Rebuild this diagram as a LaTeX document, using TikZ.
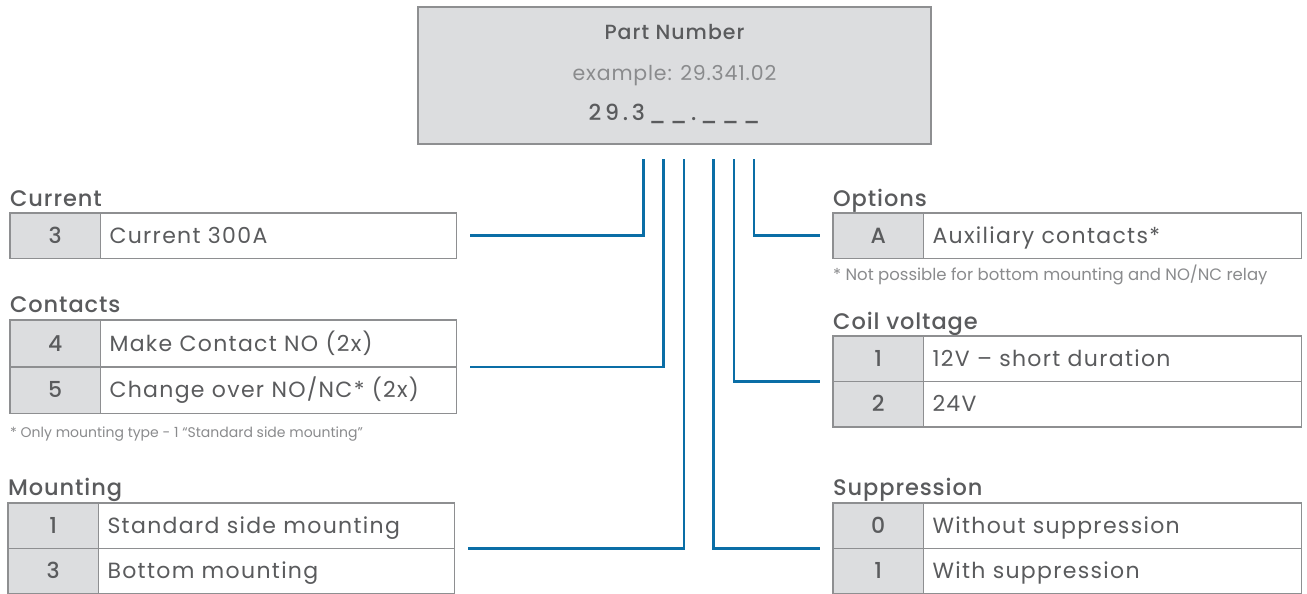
\documentclass[tikz,border=0pt]{standalone}
\usepackage{fontspec}
\setmainfont{Poppins}
\newfontfamily\medfont{Poppins Medium}
\usetikzlibrary{positioning}

\definecolor{txtgrey}{HTML}{5A5B5D}
\definecolor{notegrey}{HTML}{8A8B8D}
\definecolor{cellfill}{HTML}{DCDDDF}
\definecolor{cellline}{HTML}{8E8F91}
\definecolor{wireblue}{HTML}{0A6EA6}

\tikzset{
    cell/.style={draw=cellline, line width=1.3pt, outer sep=0pt, minimum height=45.5pt,
        text height=15pt, text depth=0pt, text=txtgrey,
        font=\fontsize{22}{26}\selectfont\addfontfeature{LetterSpace=6}},
    keycell/.style={cell, fill=cellfill, minimum width=90.5pt, font=\medfont\fontsize{22}{26}\selectfont},
    valcell/.style={cell, inner xsep=9pt, align=left, text width=#1},
    title/.style={anchor=base west, inner sep=0pt, text=txtgrey,
        font=\medfont\fontsize{22.5}{26}\selectfont\addfontfeature{LetterSpace=4}},
    note/.style={anchor=base west, inner sep=0pt, text=notegrey, font=\fontsize{#1}{18}\selectfont},
    wire/.style={draw=wireblue, line width=2.6pt, shorten >=13pt}
}

\begin{document}
\begin{tikzpicture}[x=1pt, y=-1pt]
        \path[use as bounding box, fill=white] (0,0) rectangle (1307,594);

        % Part number box
        \node[draw=cellline, line width=1.5pt, fill=cellfill, minimum width=513pt, minimum height=137pt] (pn) at (674.5,75.5) {};
        \node[anchor=base, text=txtgrey, font=\medfont\fontsize{20.5}{24}\selectfont\addfontfeature{LetterSpace=5}] (pntitle) at (674.5,40) {Part Number};
        \node[anchor=base, text=notegrey, font=\fontsize{20.5}{24}\selectfont\addfontfeature{LetterSpace=4}] (pnexample) at (674.5,81) {example: 29.341.02};
        \node[anchor=base, text=txtgrey, font=\medfont\fontsize{22}{24}\selectfont\addfontfeature{LetterSpace=17}] (pncode) at (674.5,121) {29.3\_\_.\_\_\_};

        \foreach \i/\x in {1/643.5, 2/663.5, 3/684, 4/713.5, 5/734, 6/754}
            \coordinate (p\i) at (\x,159);

        % Current
        \node[title] (curT) at (10,206) {Current};
        \node[keycell, anchor=north west] (cur3k) at (10,213) {3};
        \node[valcell=338pt, right=0pt of cur3k] (cur3v) {Current 300A};

        % Contacts (rows a bit taller)
        \node[title] (conT) at (10,312) {Contacts};
        \node[keycell, minimum height=47pt, anchor=north west] (con4k) at (10,320) {4};
        \node[valcell=338pt, minimum height=47pt, right=0pt of con4k] (con4v) {Make Contact NO (2x)};
        \node[keycell, minimum height=46.5pt, below=0pt of con4k] (con5k) {5};
        \node[valcell=338pt, minimum height=46.5pt, right=0pt of con5k] (con5v) {Change over NO/NC* (2x)};
        \node[note=14] (conN) at (10,437) {* Only mounting type - 1 “Standard side mounting”};

        % Mounting
        \node[title] (mntT) at (8,495) {Mounting};
        \node[keycell, anchor=north west] (mnt1k) at (8,503) {1};
        \node[valcell=338pt, right=0pt of mnt1k] (mnt1v) {Standard side mounting};
        \node[keycell, below=0pt of mnt1k] (mnt3k) {3};
        \node[valcell=338pt, right=0pt of mnt3k] (mnt3v) {Bottom mounting};

        % Options
        \node[title] (optT) at (833,206) {Options};
        \node[keycell, anchor=north west] (optAk) at (833,213) {A};
        \node[valcell=360pt, right=0pt of optAk] (optAv) {Auxiliary contacts*};
        \node[note=16.5] (optN) at (833,280.5) {* Not possible for bottom mounting and NO/NC relay};

        % Coil voltage
        \node[title] (coilT) at (833,329) {Coil voltage};
        \node[keycell, anchor=north west] (coil1k) at (833,336) {1};
        \node[valcell=360pt, right=0pt of coil1k] (coil1v) {12V – short duration};
        \node[keycell, below=0pt of coil1k] (coil2k) {2};
        \node[valcell=360pt, right=0pt of coil2k] (coil2v) {24V};

        % Suppression
        \node[title] (supT) at (833,495) {Suppression};
        \node[keycell, anchor=north west] (sup0k) at (833,503) {0};
        \node[valcell=360pt, right=0pt of sup0k] (sup0v) {Without suppression};
        \node[keycell, below=0pt of sup0k] (sup1k) {1};
        \node[valcell=360pt, right=0pt of sup1k] (sup1v) {With suppression};

        % Wires from the part number to the tables
        \foreach \p/\t in {p1/cur3v.east, p2/con4v.south east, p3/mnt1v.south east,
                           p4/sup0k.south west, p5/coil1k.south west, p6/optAk.west}
            \draw[wire] (\p) |- (\t);
    \end{tikzpicture}
\end{document}
